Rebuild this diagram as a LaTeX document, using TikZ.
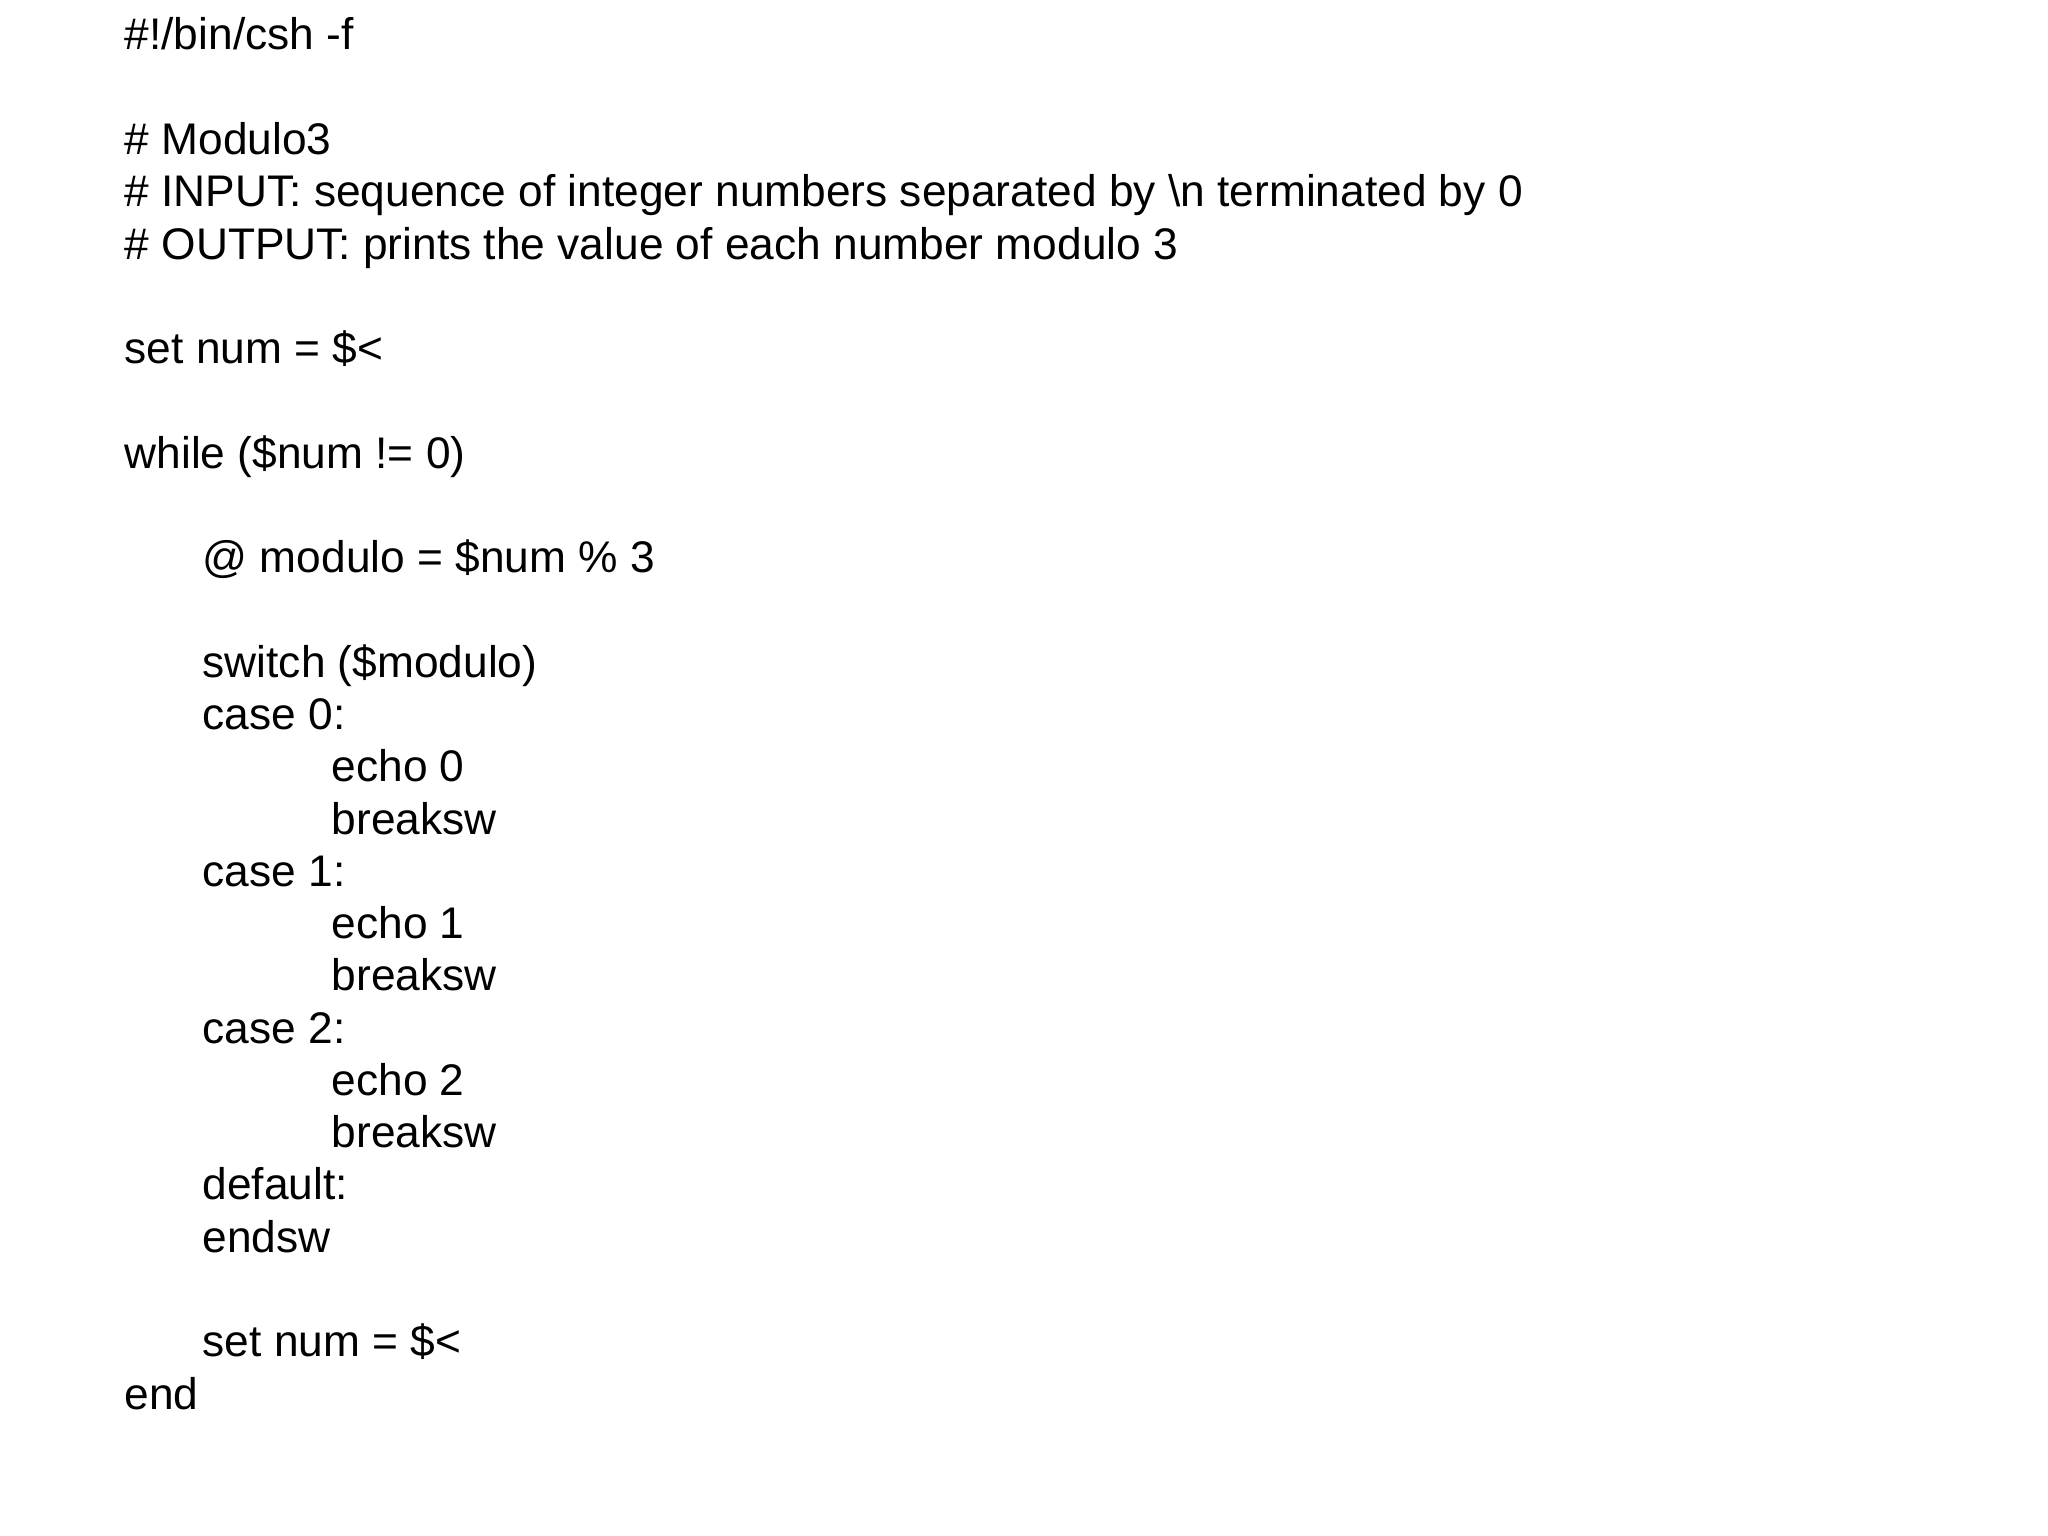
\documentclass[tikz,border=0pt]{standalone}
\usepackage{fontspec}
\setmainfont{Liberation Sans}
\begin{document}
\begin{tikzpicture}[x=1cm,y=1cm,
  code/.style={anchor=base west,inner sep=0pt,font=\fontsize{12.6pt}{15pt}\selectfont}]
\useasboundingbox[fill=white] (0,0) rectangle (20.48,-15.36);
\def\ly#1{-0.50-0.5227*#1}
\node[code] (l0) at (1.24,{\ly{0}}) {\#!/bin/csh -f};
\node[code] (l2) at (1.24,{\ly{2}}) {\# Modulo3};
\node[code] (l3) at (1.24,{\ly{3}}) {\# INPUT: sequence of integer numbers separated by \textbackslash n terminated by 0};
\node[code] (l4) at (1.24,{\ly{4}}) {\# OUTPUT: prints the value of each number modulo 3};
\node[code] (l6) at (1.24,{\ly{6}}) {set num = \$<};
\node[code] (l8) at (1.24,{\ly{8}}) {while (\$num != 0)};
\node[code] (l10) at (2.02,{\ly{10}}) {@ modulo = \$num \% 3};
\node[code] (l12) at (2.02,{\ly{12}}) {switch (\$modulo)};
\node[code] (l13) at (2.02,{\ly{13}}) {case 0:};
\node[code] (l14) at (3.31,{\ly{14}}) {echo 0};
\node[code] (l15) at (3.31,{\ly{15}}) {breaksw};
\node[code] (l16) at (2.02,{\ly{16}}) {case 1:};
\node[code] (l17) at (3.31,{\ly{17}}) {echo 1};
\node[code] (l18) at (3.31,{\ly{18}}) {breaksw};
\node[code] (l19) at (2.02,{\ly{19}}) {case 2:};
\node[code] (l20) at (3.31,{\ly{20}}) {echo 2};
\node[code] (l21) at (3.31,{\ly{21}}) {breaksw};
\node[code] (l22) at (2.02,{\ly{22}}) {default:};
\node[code] (l23) at (2.02,{\ly{23}}) {endsw};
\node[code] (l25) at (2.02,{\ly{25}}) {set num = \$<};
\node[code] (l26) at (1.24,{\ly{26}}) {end};
\end{tikzpicture}
\end{document}
